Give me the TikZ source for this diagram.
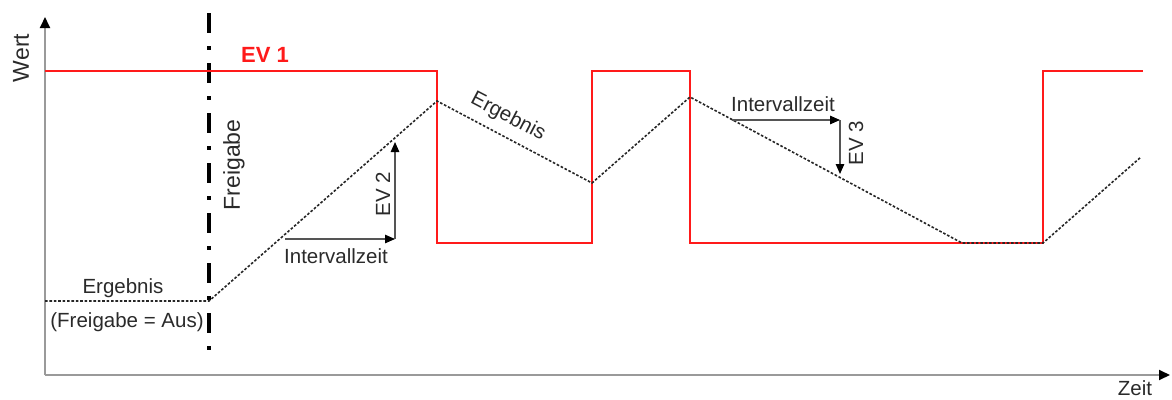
\documentclass[tikz,border=0pt]{standalone}
\usepackage{fontspec}
\setmainfont{Liberation Sans}
\usetikzlibrary{arrows.meta}
\definecolor{txt}{HTML}{2A2A2A}
\definecolor{axisgray}{HTML}{9A9A9A}
\definecolor{evred}{HTML}{FF1A1A}
\begin{document}
\begin{tikzpicture}[x=1pt,y=-1pt,
  lbl/.style={inner sep=0pt,text=txt,font=\fontsize{20.5}{24}\selectfont},
  biglbl/.style={inner sep=0pt,text=txt,font=\fontsize{23}{27}\selectfont},
  axisline/.style={draw=axisgray,line width=1.8pt,-{Triangle[length=11pt,width=10pt,color=black]}},
  helper/.style={draw=txt!80,line width=1.2pt,-{Triangle[length=10pt,width=8.5pt,color=black]}},
  signal/.style={draw=evred,line width=1.8pt,line join=miter},
  result/.style={draw=black!85,line width=1.6pt,dash pattern=on 2.6pt off 1.8pt},
  release/.style={draw=black,line width=3.6pt,dash pattern=on 20pt off 13pt on 3.5pt off 13.5pt}]
\useasboundingbox (0,0) rectangle (1172,399);
% axes
\coordinate (O) at (45,375);
\coordinate (ytop) at (45,17);
\coordinate (xend) at (1170,375);
\draw[axisline] (O) -- (ytop);
\draw[axisline] (O) -- (xend);
\node[biglbl,rotate=90] (wert) at (21,58) {Wert};
\node[lbl] (zeit) at (1135,388) {Zeit};
% release line
\coordinate (r1) at (209,13);
\coordinate (r2) at (209,352);
\draw[release] (r1) -- (r2);
\node[biglbl,rotate=90] (frg) at (234,165) {Freigabe};
% EV1 signal
\coordinate (s0) at (45,71);
\coordinate (s1) at (437,71);
\coordinate (s2) at (437,243);
\coordinate (s3) at (592,243);
\coordinate (s4) at (592,71);
\coordinate (s5) at (690,71);
\coordinate (s6) at (690,243);
\coordinate (s7) at (1043,243);
\coordinate (s8) at (1043,71);
\coordinate (s9) at (1143,71);
\draw[signal] (s0) -- (s1) -- (s2) -- (s3) -- (s4) -- (s5) -- (s6) -- (s7) -- (s8) -- (s9);
\node[inner sep=0pt,text=evred,font=\fontsize{22}{26}\selectfont\bfseries] (ev1) at (265,55) {EV 1};
% result
\coordinate (e0) at (45,301);
\coordinate (e1) at (209,301);
\coordinate (e2) at (437,101);
\coordinate (e3) at (592,183);
\coordinate (e4) at (690,97);
\coordinate (e5) at (962,243);
\coordinate (e6) at (1043,243);
\coordinate (e7) at (1141,157);
\draw[result] (e0) -- (e1) -- (e2) -- (e3) -- (e4) -- (e5) -- (e6) -- (e7);
\node[lbl] (erg1) at (123,288) {Ergebnis};
\node[lbl] (erg2) at (127,322) {(Freigabe = Aus)};
\node[lbl,rotate=-27.6] (erg3) at (508,117) {Ergebnis};
% EV2 helper
\coordinate (a1) at (285,239);
\coordinate (a2) at (395,239);
\coordinate (a3) at (395,142);
\draw[helper] (a1) -- (a2);
\draw[helper] (a2) -- (a3);
\node[lbl] (iz1) at (336,256) {Intervallzeit};
\node[lbl,rotate=90] (ev2) at (383,194) {EV 2};
% EV3 helper
\coordinate (b1) at (732,120);
\coordinate (b2) at (840,120);
\coordinate (b3) at (840,174);
\draw[helper] (b1) -- (b2);
\draw[helper] (b2) -- (b3);
\node[lbl] (iz2) at (783,104) {Intervallzeit};
\node[lbl,rotate=90] (ev3) at (856,143) {EV 3};
\end{tikzpicture}
\end{document}
